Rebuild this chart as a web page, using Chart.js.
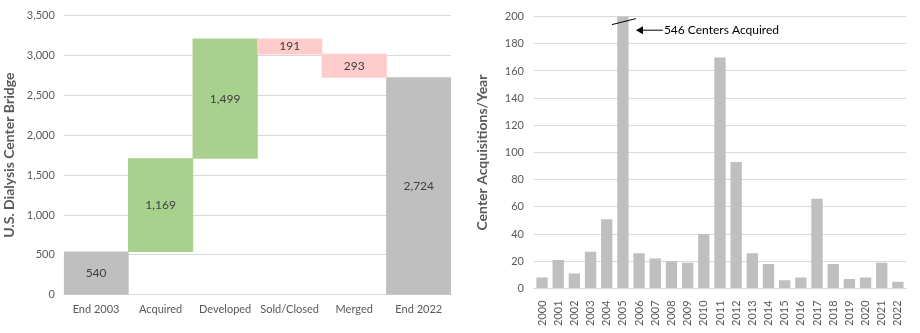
<!DOCTYPE html>
<html>
<head>
<meta charset="utf-8">
<script src="https://cdn.jsdelivr.net/npm/chart.js@4.4.0/dist/chart.umd.min.js"></script>
<style>
  html, body { margin: 0; padding: 0; background: #fff; }
  body { width: 920px; height: 333px; position: relative; overflow: hidden; }
  #left { position: absolute; left: 0; top: 0; width: 460px; height: 333px; }
  #right { position: absolute; left: 470px; top: 0; width: 450px; height: 333px; }
</style>
</head>
<body>
<div id="left"><canvas id="bridgeChart"></canvas></div>
<div id="right"><canvas id="acqChart"></canvas></div>
<script>
// bridge (waterfall) data
const bridgeLabels = ["End 2003", "Acquired", "Developed", "Sold/Closed", "Merged", "End 2022"];
const bridgeValues = [540, 1169, 1499, -191, -293, 2724];
const bridgeKinds = ["total", "up", "up", "down", "down", "total"];
const bridgeTicks = [0, 500, 1000, 1500, 2000, 2500, 3000, 3500];

// acquisitions per year
const years = ["2000","2001","2002","2003","2004","2005","2006","2007","2008","2009","2010",
  "2011","2012","2013","2014","2015","2016","2017","2018","2019","2020","2021","2022"];
const acquisitions = [8, 21, 11, 27, 51, 546, 26, 22, 20, 19, 40, 170, 93, 26, 18, 6, 8, 66, 18, 7, 8, 19, 5];
const acqNote = "546 Centers Acquired";

const FONT = "Lato, 'Open Sans', sans-serif";
const TICK = "#595959";
const GRID = "#D9D9D9";
const kindColor = { total: "#BFBFBF", up: "#A9D18E", down: "#FFCCCC" };

Chart.defaults.font.family = FONT;
Chart.defaults.color = TICK;
Chart.defaults.animation = false;

// build floating bars for the bridge
let running = 0;
const floats = bridgeValues.map((v, i) => {
  if (bridgeKinds[i] === "total") { running = v; return [0, v]; }
  const start = running;
  running += v;
  return [start, running];
});

const bridgeLabelPlugin = {
  id: "bridgeLabels",
  afterDatasetsDraw(chart) {
    const ctx = chart.ctx;
    const meta = chart.getDatasetMeta(0);
    ctx.save();
    ctx.font = "12px " + FONT;
    ctx.fillStyle = "#404040";
    ctx.textAlign = "center";
    ctx.textBaseline = "middle";
    meta.data.forEach((bar, i) => {
      const y = (bar.y + bar.base) / 2;
      ctx.fillText(Math.abs(bridgeValues[i]).toLocaleString("en-US"), bar.x, y);
    });
    ctx.restore();
  }
};

new Chart(document.getElementById("bridgeChart"), {
  type: "bar",
  data: {
    labels: bridgeLabels,
    datasets: [{
      data: floats,
      backgroundColor: bridgeKinds.map(k => kindColor[k]),
      barPercentage: 1,
      categoryPercentage: 1,
      borderSkipped: false
    }]
  },
  options: {
    responsive: true,
    maintainAspectRatio: false,
    layout: { padding: { top: 10, right: 9, bottom: 17, left: 1 } },
    plugins: { legend: { display: false }, tooltip: { enabled: false } },
    scales: {
      x: {
        grid: { display: false },
        border: { color: GRID },
        ticks: { font: { size: 11 }, color: TICK, padding: 0, minRotation: 0, maxRotation: 0, autoSkip: false }
      },
      y: {
        min: 0, max: 3500,
        afterBuildTicks: axis => { axis.ticks = bridgeTicks.map(v => ({ value: v })); },
        grid: { color: GRID, drawTicks: false },
        border: { display: false },
        ticks: { font: { size: 11 }, color: TICK, padding: 9 },
        title: { display: true, text: "U.S. Dialysis Center Bridge", color: TICK,
          font: { size: 14, weight: "bold" }, padding: { top: 0, bottom: 0 } }
      }
    }
  },
  plugins: [bridgeLabelPlugin]
});

// break mark and arrow note on the 2005 bar
const notePlugin = {
  id: "acqNote",
  afterDatasetsDraw(chart) {
    const ctx = chart.ctx;
    const xs = chart.scales.x, ys = chart.scales.y;
    const cx = xs.getPixelForValue(5);
    const top = ys.getPixelForValue(200);
    ctx.save();
    ctx.strokeStyle = "#000";
    ctx.lineWidth = 1;
    ctx.beginPath();
    ctx.moveTo(cx - 11, top + 8);
    ctx.lineTo(cx + 13, top + 2);
    ctx.stroke();

    const ay = ys.getPixelForValue(190);
    const tipX = cx + 13, tailX = cx + 40;
    ctx.beginPath();
    ctx.moveTo(tailX, ay);
    ctx.lineTo(tipX + 6, ay);
    ctx.stroke();
    ctx.fillStyle = "#000";
    ctx.beginPath();
    ctx.moveTo(tipX, ay);
    ctx.lineTo(tipX + 7, ay - 4);
    ctx.lineTo(tipX + 7, ay + 4);
    ctx.closePath();
    ctx.fill();

    ctx.font = "12px " + FONT;
    ctx.fillStyle = "#000";
    ctx.textAlign = "left";
    ctx.textBaseline = "middle";
    ctx.fillText(acqNote, tailX + 1, ay);
    ctx.restore();
  }
};

new Chart(document.getElementById("acqChart"), {
  type: "bar",
  data: {
    labels: years,
    datasets: [{
      data: acquisitions,
      backgroundColor: "#BFBFBF",
      barPercentage: 0.7,
      categoryPercentage: 1
    }]
  },
  options: {
    responsive: true,
    maintainAspectRatio: false,
    layout: { padding: { top: 15, right: 14, bottom: 3, left: 4 } },
    plugins: { legend: { display: false }, tooltip: { enabled: false } },
    scales: {
      x: {
        grid: { display: false },
        border: { color: GRID },
        ticks: { font: { size: 11 }, color: TICK, minRotation: 90, maxRotation: 90, padding: 4, autoSkip: false }
      },
      y: {
        min: 0, max: 200,
        ticks: { stepSize: 20, font: { size: 11 }, color: TICK, padding: 10 },
        grid: { color: GRID, drawTicks: false },
        border: { display: false },
        title: { display: true, text: "Center Acquisitions/Year", color: TICK,
          font: { size: 14, weight: "bold" }, padding: { top: 0, bottom: 4 } }
      }
    }
  },
  plugins: [notePlugin]
});
</script>
</body>
</html>
